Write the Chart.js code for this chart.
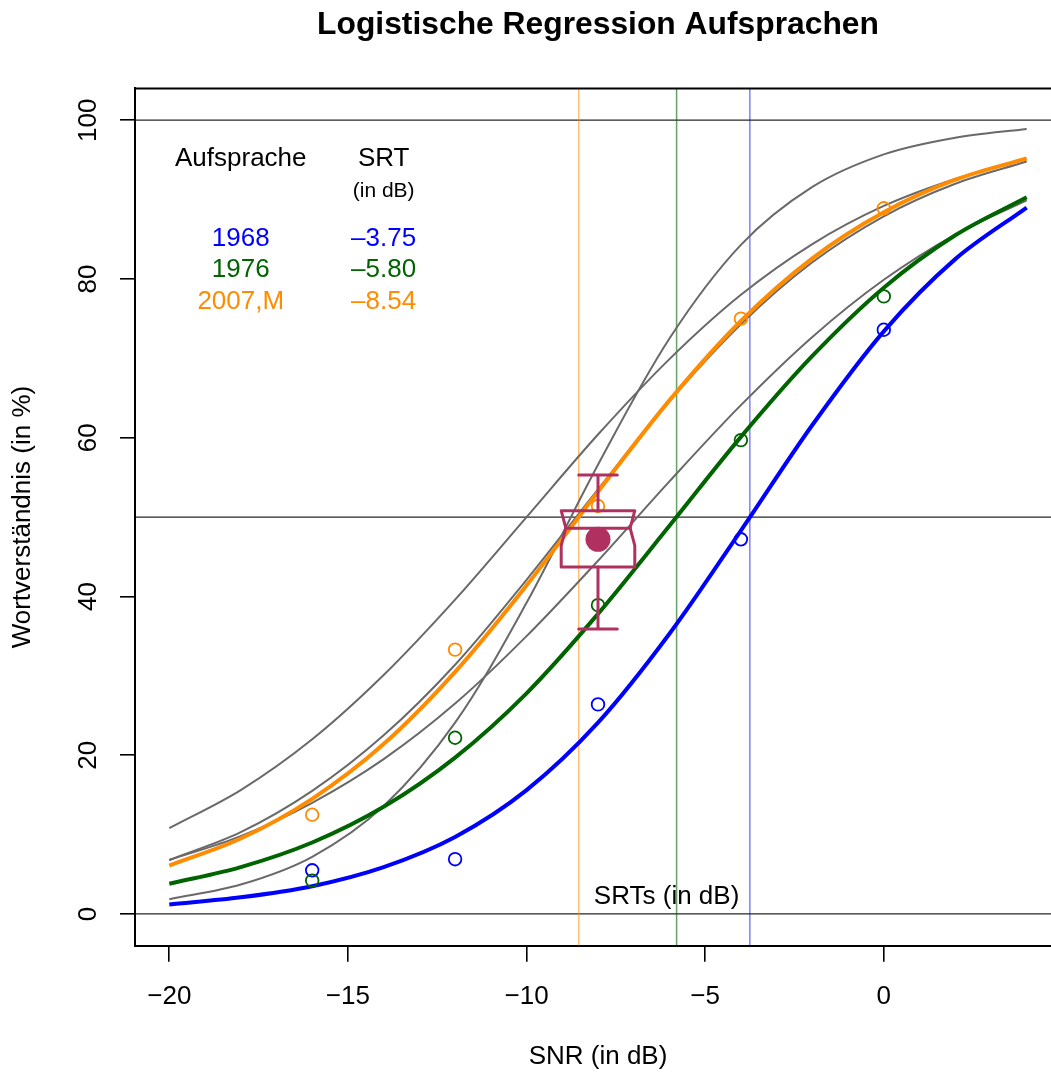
<!DOCTYPE html>
<html>
<head>
<meta charset="utf-8">
<title>Logistische Regression Aufsprachen</title>
<script src="https://cdn.jsdelivr.net/npm/chart.js@4.4.1/dist/chart.umd.min.js"></script>
<style>
  html, body { margin: 0; padding: 0; background: #fff; overflow: hidden; }
  canvas { display: block; }
</style>
</head>
<body>
<!-- plot frame runs 10px past the visible right edge -->
<canvas id="srtChart" width="1061" height="1075"></canvas>
<script>
// SNR grid (dB) the fitted curves are given on
const snrGrid = [-20, -18, -16, -14, -12, -10, -8, -6, -4, -2, 0, 2, 4];

// fitted logistic curves, word recognition in %
const fit1968 = [1.2, 2.1, 3.5, 5.9, 9.7, 15.6, 24.1, 35.3, 48.3, 61.6, 73.4, 82.5, 89.0];
const fit1976 = [3.8, 5.9, 9.0, 13.5, 19.7, 27.8, 37.8, 48.9, 60.1, 70.3, 78.9, 85.5, 90.3];
const fit2007M = [6.1, 9.5, 14.5, 21.4, 30.5, 41.4, 53.2, 64.7, 74.7, 82.6, 88.4, 92.5, 95.2];

// other recordings, drawn grey
const fitOtherA = [1.85, 3.7, 7.2, 13.6, 24.1, 39.2, 56.6, 72.5, 84.3, 91.6, 95.7, 97.8, 98.9];
const fitOtherB = [10.8, 15.6, 22.0, 30.1, 39.6, 50.0, 60.4, 69.9, 78.0, 84.4, 89.2, 92.6, 95.1];
const fitOtherC = [6.8, 10.3, 15.5, 22.5, 31.4, 42.1, 53.5, 64.6, 74.3, 82.1, 87.9, 92.0, 94.8];
const fitOtherD = [6.8, 9.8, 14.0, 19.5, 26.5, 35.0, 44.5, 54.5, 64.1, 72.7, 79.9, 85.6, 89.9];

// measured scores per SNR
const measSnr = [-16, -12, -8, -4, 0];
const meas1968 = [5.5, 6.9, 26.4, 47.2, 73.6];
const meas1976 = [4.2, 22.2, 38.9, 59.7, 77.8];
const meas2007M = [12.5, 33.3, 51.4, 75.0, 88.9];

// SRT table
const years = ['1968', '1976', '2007,M'];
const srtValues = [-3.75, -5.80, -8.54];
const yearColors = ['#0000FF', '#006400', '#FF8C00'];

// notched boxplot at -8 dB
const boxSnr = -8;
const boxWhiskers = [35.9, 55.3];
const boxHinges = [43.7, 50.8];
const boxNotches = [46.4, 50.8];
const boxMedian = 48.6;
const boxMean = 47.2;

const refLevels = [0, 50, 100];
const xTicks = [-20, -15, -10, -5, 0];
const yTicks = [0, 20, 40, 60, 80, 100];
const xRange = [-20.96, 4.96];
const yRange = [-4, 104];

const fontFamily = "'Liberation Sans', Arial, Helvetica, sans-serif";
const greyCurve = '#696969';
const boxColor = '#B03060';

Chart.defaults.font.family = fontFamily;
Chart.defaults.color = '#000';

const fmtNum = (v) => (v < 0 ? '\u2212' + Math.abs(v) : String(v));
const toPoints = (xs, ys) => xs.map((x, i) => ({ x: x, y: ys[i] }));

function curve(values, color, width) {
  return {
    data: toPoints(snrGrid, values),
    showLine: true,
    borderColor: color,
    borderWidth: width,
    pointRadius: 0,
    tension: 0.33,
    fill: false
  };
}

function circles(values, color) {
  return {
    data: toPoints(measSnr, values),
    showLine: false,
    pointStyle: 'circle',
    pointRadius: 6.3,
    pointBorderWidth: 1.8,
    borderColor: color,
    backgroundColor: 'rgba(0,0,0,0)'
  };
}

function straight(points, color, width) {
  return {
    data: points,
    showLine: true,
    borderColor: color,
    borderWidth: width,
    pointRadius: 0,
    fill: false
  };
}

const srtFaded = ['rgba(0,0,255,0.5)', 'rgba(0,100,0,0.6)', 'rgba(255,140,0,0.55)'];

// index 0 ends up on top
const datasets = [
  {
    data: [{ x: boxSnr, y: boxMean }],
    pointRadius: 12.5,
    pointBorderWidth: 0,
    backgroundColor: boxColor,
    borderColor: boxColor
  },
  circles(meas2007M, yearColors[2]),
  circles(meas1976, yearColors[1]),
  circles(meas1968, yearColors[0]),
  curve(fit2007M, yearColors[2], 4),
  curve(fit1976, yearColors[1], 4),
  curve(fit1968, yearColors[0], 4),
  curve(fitOtherA, greyCurve, 2),
  curve(fitOtherB, greyCurve, 2),
  curve(fitOtherC, greyCurve, 2),
  curve(fitOtherD, greyCurve, 2)
];
srtValues.forEach((s, i) => {
  datasets.push(straight([{ x: s, y: yRange[0] }, { x: s, y: yRange[1] }], srtFaded[i], 1.5));
});
refLevels.forEach((h) => {
  datasets.push(straight([{ x: xRange[0], y: h }, { x: xRange[1], y: h }], 'rgba(0,0,0,0.85)', 1.2));
});

// notched box drawn just beneath the mean dot
const boxPlugin = {
  id: 'notchedBox',
  afterDatasetDraw(chart, args) {
    if (args.index !== 1) return;
    const { ctx } = chart;
    const x = chart.scales.x, y = chart.scales.y;
    const xc = x.getPixelForValue(boxSnr);
    const half = x.getPixelForValue(boxSnr + 1.03) - xc;
    const inset = x.getPixelForValue(boxSnr + 0.13) - xc;
    const cap = x.getPixelForValue(boxSnr + 0.54) - xc;
    const py = (v) => y.getPixelForValue(v);

    ctx.save();
    ctx.strokeStyle = boxColor;
    ctx.lineWidth = 3;
    ctx.lineJoin = 'round';
    ctx.lineCap = 'round';

    ctx.beginPath();
    ctx.moveTo(xc - half, py(boxHinges[0]));
    ctx.lineTo(xc - half, py(boxNotches[0]));
    ctx.lineTo(xc - half + inset, py(boxMedian));
    ctx.lineTo(xc - half, py(boxNotches[1]));
    ctx.lineTo(xc - half, py(boxHinges[1]));
    ctx.lineTo(xc + half, py(boxHinges[1]));
    ctx.lineTo(xc + half, py(boxNotches[1]));
    ctx.lineTo(xc + half - inset, py(boxMedian));
    ctx.lineTo(xc + half, py(boxNotches[0]));
    ctx.lineTo(xc + half, py(boxHinges[0]));
    ctx.closePath();
    ctx.stroke();

    ctx.beginPath();
    ctx.moveTo(xc - half + inset, py(boxMedian));
    ctx.lineTo(xc + half - inset, py(boxMedian));
    // whiskers and caps
    ctx.moveTo(xc, py(boxHinges[1]));
    ctx.lineTo(xc, py(boxWhiskers[1]));
    ctx.moveTo(xc - cap, py(boxWhiskers[1]));
    ctx.lineTo(xc + cap, py(boxWhiskers[1]));
    ctx.moveTo(xc, py(boxHinges[0]));
    ctx.lineTo(xc, py(boxWhiskers[0]));
    ctx.moveTo(xc - cap, py(boxWhiskers[0]));
    ctx.lineTo(xc + cap, py(boxWhiskers[0]));
    ctx.stroke();
    ctx.restore();
  }
};

// frame, rotated y labels, SRT table and note
const decorPlugin = {
  id: 'decor',
  afterDraw(chart) {
    const { ctx, chartArea } = chart;
    const x = chart.scales.x, y = chart.scales.y;

    ctx.save();
    ctx.strokeStyle = '#000';
    ctx.lineWidth = 2;
    ctx.beginPath();
    ctx.moveTo(chartArea.left - 1, chartArea.top);
    ctx.lineTo(chartArea.right, chartArea.top);
    ctx.lineTo(chartArea.right, chartArea.bottom);
    ctx.stroke();

    ctx.fillStyle = '#000';
    ctx.font = '26px ' + fontFamily;
    ctx.textAlign = 'center';
    ctx.textBaseline = 'middle';
    yTicks.forEach((v) => {
      ctx.save();
      ctx.translate(chartArea.left - 46.3, y.getPixelForValue(v));
      ctx.rotate(-Math.PI / 2);
      ctx.fillText(fmtNum(v), 0, 0);
      ctx.restore();
    });

    const colA = x.getPixelForValue(-18);
    const colB = x.getPixelForValue(-14);
    ctx.fillText('Aufsprache', colA, y.getPixelForValue(95.1));
    ctx.fillText('SRT', colB, y.getPixelForValue(95.1));
    ctx.font = '21px ' + fontFamily;
    ctx.fillText('(in dB)', colB, y.getPixelForValue(91));
    ctx.font = '26px ' + fontFamily;
    const rows = [85.1, 81.1, 77.1];
    years.forEach((yr, i) => {
      ctx.fillStyle = yearColors[i];
      const ry = y.getPixelForValue(rows[i]);
      ctx.fillText(yr, colA, ry);
      ctx.fillText('\u2013' + srtValues[i].toFixed(2).replace('-', ''), colB, ry);
    });

    ctx.fillStyle = '#000';
    ctx.fillText('SRTs (in dB)', x.getPixelForValue(-6.08), y.getPixelForValue(2.1));
    ctx.restore();
  }
};

new Chart(document.getElementById('srtChart'), {
  type: 'scatter',
  data: { datasets: datasets },
  options: {
    responsive: false,
    devicePixelRatio: 1,
    animation: false,
    events: [],
    layout: { autoPadding: false, padding: 0 },
    plugins: {
      legend: { display: false },
      tooltip: { enabled: false },
      title: {
        display: true,
        text: 'Logistische Regression Aufsprachen',
        fullSize: false,
        color: '#000',
        font: { size: 31.8, weight: 'bold' },
        padding: { top: 6, bottom: 44.3 }
      }
    },
    scales: {
      x: {
        type: 'linear',
        position: 'bottom',
        min: xRange[0],
        max: xRange[1],
        afterBuildTicks: (s) => { s.ticks = xTicks.map((v) => ({ value: v })); },
        afterFit: (s) => { s.height = 129.3; s.paddingLeft = 0; s.paddingRight = 0; },
        grid: { display: true, drawOnChartArea: false, drawTicks: true, tickLength: 16, color: '#000', lineWidth: 1.6 },
        border: { display: true, color: '#000', width: 2 },
        ticks: { color: '#000', font: { size: 26 }, padding: 20, maxRotation: 0, callback: (v) => fmtNum(v) },
        title: { display: true, text: 'SNR (in dB)', color: '#000', font: { size: 26 }, padding: { top: 30, bottom: 2.4 } }
      },
      y: {
        type: 'linear',
        position: 'left',
        min: yRange[0],
        max: yRange[1],
        afterBuildTicks: (s) => { s.ticks = yTicks.map((v) => ({ value: v })); },
        afterFit: (s) => { s.width = 135; s.paddingTop = 0; s.paddingBottom = 0; },
        grid: { display: true, drawOnChartArea: false, drawTicks: true, tickLength: 15, color: '#000', lineWidth: 1.6 },
        border: { display: true, color: '#000', width: 2 },
        ticks: { display: false },
        title: { display: true, text: 'Wortverständnis (in %)', color: '#000', font: { size: 26 }, padding: { top: 7.4, bottom: 81.4 } }
      }
    }
  },
  plugins: [boxPlugin, decorPlugin]
});
</script>
</body>
</html>
